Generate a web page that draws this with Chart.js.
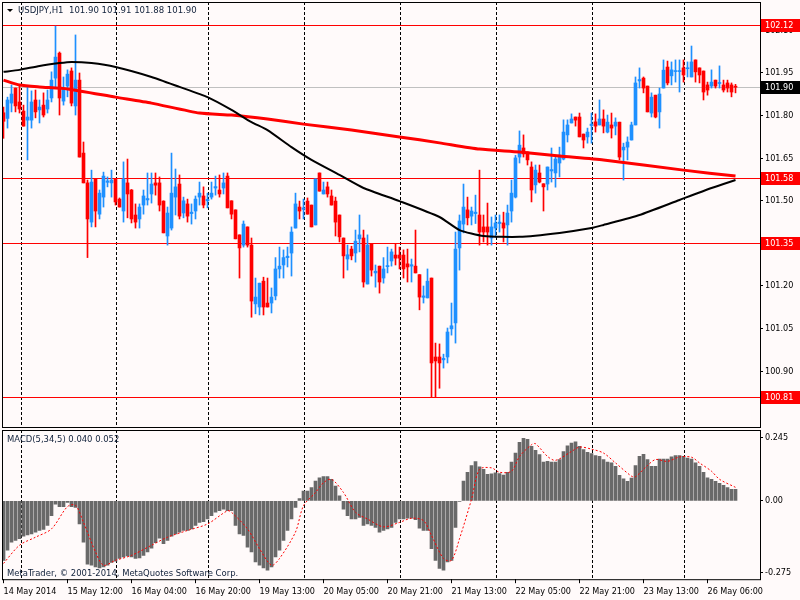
<!DOCTYPE html>
<html>
<head>
<meta charset="utf-8">
<script src="https://cdn.jsdelivr.net/npm/chart.js@4.4.1/dist/chart.umd.min.js"></script>
<style>
html, body { margin: 0; padding: 0; background: #fffafa; }
#wrap { position: relative; width: 800px; height: 600px; overflow: hidden; }
canvas { position: absolute; left: 0; }
#main { top: 0; }
#macd { top: 428px; }
</style>
</head>
<body>
<div id="wrap">
  <canvas id="main" width="800" height="428"></canvas>
  <canvas id="macd" width="800" height="172"></canvas>
</div>
<script>
// USDJPY H1 candles, bar 0 = 14 May 20:00
const opens = [101.81,101.79,101.844,101.897,101.848,101.816,101.784,101.784,101.855,101.82,
  101.837,101.823,101.862,101.932,102.02,101.851,101.904,101.957,101.834,101.925,
  101.668,101.563,101.425,101.577,101.453,101.513,101.565,101.563,101.577,101.506,
  101.464,101.563,101.538,101.45,101.436,101.485,101.503,101.524,101.563,101.563,
  101.499,101.376,101.404,101.513,101.559,101.457,101.489,101.455,101.464,101.513,
  101.517,101.50,101.513,101.545,101.538,101.545,101.587,101.50,101.468,101.38,
  101.344,101.408,101.344,101.137,101.126,101.217,101.14,101.14,101.165,101.26,
  101.274,101.30,101.316,101.404,101.478,101.47,101.499,101.485,101.415,101.598,
  101.524,101.549,101.517,101.499,101.45,101.369,101.295,101.33,101.316,101.366,
  101.369,101.207,101.348,101.246,101.27,101.228,101.268,101.288,101.309,101.309,
  101.309,101.278,101.27,101.27,101.24,101.16,101.158,101.228,100.95,100.95,
  100.94,100.95,101.049,101.07,101.334,101.418,101.468,101.446,101.455,101.45,
  101.408,101.408,101.369,101.404,101.42,101.422,101.415,101.464,101.513,101.654,
  101.686,101.672,101.619,101.556,101.598,101.56,101.559,101.605,101.598,101.633,
  101.647,101.732,101.774,101.795,101.795,101.735,101.725,101.765,101.778,101.767,
  101.788,101.742,101.767,101.763,101.777,101.679,101.689,101.714,101.767,101.922,
  101.932,101.904,101.809,101.872,101.813,101.897,101.971,101.94,101.955,101.955,
  101.968,101.965,101.936,101.996,101.968,101.957,101.908,101.904,101.925,101.913,
  101.908,101.915,101.908,101.90];
const highs = [101.83,101.865,101.908,101.897,101.908,101.837,101.901,101.887,101.89,101.855,
  101.88,101.89,101.954,102.115,102.024,101.936,101.961,101.968,102.084,101.95,
  101.707,101.573,101.608,101.577,101.538,101.601,101.584,101.608,101.577,101.51,
  101.637,101.647,101.54,101.489,101.489,101.538,101.598,101.598,101.598,101.584,
  101.50,101.478,101.668,101.612,101.591,101.513,101.506,101.489,101.517,101.566,
  101.549,101.527,101.566,101.587,101.591,101.598,101.598,101.50,101.468,101.38,
  101.429,101.408,101.369,101.228,101.21,101.231,101.228,101.193,101.30,101.337,
  101.327,101.337,101.408,101.527,101.499,101.506,101.51,101.485,101.577,101.598,
  101.566,101.566,101.538,101.513,101.45,101.369,101.344,101.34,101.397,101.45,
  101.397,101.38,101.348,101.274,101.27,101.30,101.337,101.33,101.348,101.337,
  101.327,101.33,101.295,101.397,101.24,101.20,101.26,101.228,100.999,100.996,
  100.96,101.052,101.14,101.39,101.45,101.559,101.513,101.478,101.52,101.608,
  101.45,101.492,101.443,101.45,101.45,101.46,101.485,101.573,101.66,101.746,
  101.732,101.672,101.637,101.626,101.626,101.56,101.619,101.686,101.658,101.689,
  101.785,101.785,101.806,101.795,101.809,101.735,101.756,101.809,101.806,101.855,
  101.82,101.802,101.809,101.792,101.777,101.703,101.725,101.777,101.936,101.968,
  101.936,101.904,101.88,101.872,101.897,101.996,101.992,101.989,101.996,101.996,
  101.996,101.989,102.045,101.996,101.968,101.957,101.918,101.961,101.925,101.975,
  101.925,101.925,101.915,101.91];
const lows = [101.72,101.756,101.813,101.813,101.809,101.763,101.644,101.756,101.792,101.774,
  101.795,101.809,101.848,101.901,101.802,101.837,101.866,101.834,101.802,101.654,
  101.563,101.30,101.408,101.408,101.436,101.478,101.549,101.513,101.485,101.478,
  101.425,101.44,101.422,101.404,101.404,101.453,101.485,101.492,101.52,101.464,
  101.387,101.344,101.397,101.45,101.436,101.44,101.425,101.418,101.436,101.485,
  101.475,101.475,101.506,101.52,101.513,101.524,101.475,101.436,101.366,101.228,
  101.337,101.337,101.09,101.102,101.098,101.098,101.126,101.105,101.151,101.228,
  101.228,101.267,101.235,101.404,101.436,101.436,101.453,101.408,101.415,101.534,
  101.524,101.513,101.485,101.376,101.355,101.228,101.256,101.292,101.284,101.32,
  101.196,101.207,101.235,101.196,101.175,101.21,101.246,101.27,101.274,101.26,
  101.228,101.214,101.214,101.246,101.116,101.14,101.158,100.81,100.81,100.84,
  100.911,100.929,101.027,100.999,101.256,101.387,101.415,101.415,101.42,101.344,
  101.355,101.344,101.344,101.372,101.39,101.355,101.344,101.425,101.51,101.633,
  101.654,101.626,101.496,101.527,101.563,101.464,101.538,101.566,101.548,101.584,
  101.644,101.707,101.774,101.763,101.725,101.686,101.703,101.703,101.742,101.767,
  101.739,101.739,101.721,101.732,101.644,101.573,101.644,101.714,101.767,101.897,
  101.88,101.813,101.795,101.792,101.756,101.897,101.908,101.908,101.918,101.883,
  101.918,101.936,101.936,101.918,101.915,101.855,101.872,101.897,101.897,101.897,
  101.883,101.883,101.866,101.88];
const closes = [101.78,101.855,101.876,101.834,101.823,101.763,101.795,101.848,101.813,101.83,
  101.802,101.855,101.925,102.006,101.862,101.897,101.946,101.844,101.925,101.654,
  101.563,101.436,101.566,101.464,101.527,101.587,101.57,101.573,101.496,101.478,
  101.577,101.524,101.436,101.425,101.478,101.517,101.508,101.559,101.555,101.485,
  101.387,101.457,101.527,101.549,101.446,101.50,101.446,101.46,101.506,101.527,
  101.485,101.505,101.527,101.55,101.524,101.563,101.475,101.453,101.366,101.334,
  101.418,101.344,101.147,101.161,101.21,101.126,101.126,101.161,101.26,101.27,
  101.30,101.305,101.39,101.489,101.464,101.475,101.453,101.408,101.577,101.534,
  101.538,101.524,101.485,101.425,101.373,101.306,101.31,101.306,101.358,101.38,
  101.214,101.344,101.256,101.252,101.214,101.26,101.272,101.32,101.298,101.298,
  101.26,101.267,101.275,101.246,101.161,101.165,101.217,100.929,100.936,100.929,
  100.945,101.038,101.06,101.33,101.429,101.478,101.44,101.464,101.46,101.39,
  101.39,101.39,101.408,101.422,101.425,101.404,101.457,101.527,101.651,101.696,
  101.665,101.644,101.538,101.608,101.566,101.549,101.619,101.61,101.647,101.661,
  101.742,101.767,101.788,101.784,101.725,101.714,101.742,101.77,101.763,101.788,
  101.763,101.777,101.756,101.777,101.654,101.689,101.707,101.767,101.915,101.927,
  101.897,101.813,101.865,101.795,101.876,101.96,101.915,101.961,101.958,101.958,
  101.943,101.968,101.989,101.954,101.943,101.883,101.89,101.918,101.904,101.916,
  101.89,101.897,101.883,101.90];

// moving averages, read at a few bars
const blackMaIdx = [0,4,9,14,17,22,28,37,44,51,57,62,66,72,77,84,90,99,109,114,120,129,139,147,150,159,169,177,183];
const blackMaVal = [101.954,101.961,101.975,101.985,101.989,101.985,101.971,101.936,101.901,101.865,101.82,101.777,101.749,101.689,101.644,101.591,101.545,101.499,101.443,101.397,101.376,101.373,101.387,101.404,101.415,101.45,101.503,101.545,101.573];
const redMaIdx = [0,4,9,16,28,37,49,57,66,75,87,99,109,119,129,139,150,170,183];
const redMaVal = [101.925,101.908,101.901,101.894,101.865,101.844,101.809,101.802,101.788,101.77,101.749,101.725,101.704,101.682,101.672,101.658,101.644,101.608,101.587];

// MACD(5,34,5)
const macdHist = [-0.229,-0.19,-0.159,-0.152,-0.146,-0.136,-0.131,-0.127,-0.121,-0.114,
  -0.11,-0.095,-0.057,-0.013,-0.022,-0.022,-0.006,-0.022,-0.025,-0.089,
  -0.159,-0.244,-0.248,-0.254,-0.258,-0.254,-0.248,-0.237,-0.232,-0.222,
  -0.216,-0.212,-0.216,-0.222,-0.22,-0.21,-0.197,-0.182,-0.161,-0.144,
  -0.165,-0.152,-0.136,-0.127,-0.121,-0.114,-0.114,-0.108,-0.095,-0.083,
  -0.08,-0.07,-0.057,-0.044,-0.038,-0.032,-0.038,-0.038,-0.095,-0.127,
  -0.133,-0.178,-0.197,-0.235,-0.248,-0.258,-0.267,-0.254,-0.216,-0.19,
  -0.152,-0.114,-0.07,-0.025,0.009,0.038,0.038,0.051,0.076,0.089,
  0.093,0.093,0.083,0.057,0.019,-0.032,-0.057,-0.07,-0.07,-0.064,
  -0.095,-0.089,-0.095,-0.102,-0.121,-0.114,-0.108,-0.102,-0.083,-0.07,
  -0.07,-0.067,-0.067,-0.072,-0.105,-0.114,-0.114,-0.184,-0.229,-0.26,
  -0.267,-0.235,-0.229,-0.102,-0.002,0.076,0.11,0.136,0.151,0.131,
  0.121,0.102,0.104,0.108,0.105,0.099,0.11,0.149,0.184,0.225,
  0.241,0.237,0.21,0.194,0.178,0.149,0.152,0.149,0.149,0.159,
  0.19,0.212,0.222,0.227,0.21,0.197,0.187,0.182,0.174,0.171,
  0.159,0.149,0.146,0.133,0.098,0.085,0.075,0.088,0.136,0.171,
  0.179,0.159,0.133,0.133,0.161,0.161,0.161,0.169,0.174,0.174,
  0.171,0.165,0.161,0.146,0.133,0.11,0.089,0.083,0.075,0.067,
  0.06,0.051,0.044,0.044];
const signalIdx = [0,4,8,12,16,18,20,23,25,28,32,37,41,46,51,56,57,61,64,67,69,73,75,78,80,82,85,88,91,95,99,
  102,105,107,110,112,114,117,119,122,124,127,129,132,133,136,138,142,144,147,150,153,157,158,161,163,166,169,172,174,177,179,183];
const signalVal = [-0.241,-0.171,-0.14,-0.108,-0.022,-0.017,-0.083,-0.197,-0.248,-0.229,-0.21,-0.171,-0.14,-0.114,-0.089,-0.038,-0.044,-0.108,-0.184,-0.248,-0.222,-0.12,-0.019,0.032,0.07,0.083,0.032,-0.044,-0.07,-0.1,-0.083,
  -0.067,-0.076,-0.133,-0.222,-0.229,-0.146,0.006,0.121,0.127,0.11,0.114,0.171,0.216,0.22,0.171,0.156,0.19,0.207,0.199,0.184,0.146,0.095,0.093,0.136,0.159,0.152,0.169,0.168,0.146,0.114,0.083,0.052];

// axes
const priceTicks = [100.90,101.05,101.20,101.35,101.50,101.65,101.80,101.95,102.10];
const levels = [102.12,101.58,101.35,100.81];
const bidPrice = 101.90;
const macdTicks = [0.245,0,-0.275];
const macdTickText = ['0.245','0.00','-0.275'];
const xLabelIdx = [0,16,32,48,64,80,96,112,128,144,160,176];
const xLabels = ['14 May 2014','15 May 12:00','16 May 04:00','16 May 20:00','19 May 13:00','20 May 05:00',
  '20 May 21:00','21 May 13:00','22 May 05:00','22 May 21:00','23 May 13:00','26 May 06:00'];
const dayBreaks = [4.25,28.2,51.1,75.1,99,123.2,147.2,170.1];

const X_MIN = -0.375, X_MAX = 189.125;
const BULL = '#1e90ff', BEAR = '#ff0000';
const FONT = "'DejaVu Sans Condensed', 'DejaVu Sans', sans-serif";
Chart.defaults.font.family = FONT;
Chart.defaults.font.size = 9;
Chart.defaults.color = '#000';

const candleColors = opens.map((o, i) => closes[i] > o ? BULL : BEAR);
const bodies = opens.map((o, i) => ({x: i, y: [o, closes[i]]}));
const wicks = lows.map((l, i) => ({x: i, y: [l, highs[i]]}));

function fixAxis(w) {
  return function (s) {
    if (w) s.width = w;
    s.paddingTop = 0; s.paddingBottom = 0; s.paddingLeft = 0; s.paddingRight = 0;
  };
}

function dashedDays(chart) {
  const {ctx, chartArea: a, scales: {x}} = chart;
  ctx.save();
  ctx.strokeStyle = '#000';
  ctx.lineWidth = 1;
  ctx.setLineDash([3, 2]);
  dayBreaks.forEach(d => {
    const px = Math.round(x.getPixelForValue(d)) + 0.5;
    ctx.beginPath(); ctx.moveTo(px, a.top); ctx.lineTo(px, a.bottom); ctx.stroke();
  });
  ctx.restore();
}

function frame(chart) {
  const {ctx, chartArea: a} = chart;
  ctx.save();
  ctx.strokeStyle = '#000';
  ctx.lineWidth = 1;
  ctx.strokeRect(a.left + 0.5, a.top + 0.5, a.right - a.left, a.bottom - a.top);
  ctx.restore();
}

const mainDecor = {
  id: 'mainDecor',
  beforeDatasetsDraw(chart) {
    const {ctx, chartArea: a, scales: {y}} = chart;
    dashedDays(chart);
    ctx.save();
    ctx.lineWidth = 1;
    let py = Math.round(y.getPixelForValue(bidPrice)) + 0.5;
    ctx.strokeStyle = '#c0c0c0';
    ctx.beginPath(); ctx.moveTo(a.left, py); ctx.lineTo(a.right, py); ctx.stroke();
    ctx.strokeStyle = '#ff0000';
    levels.forEach(v => {
      py = Math.round(y.getPixelForValue(v)) + 0.5;
      ctx.beginPath(); ctx.moveTo(a.left, py); ctx.lineTo(a.right, py); ctx.stroke();
    });
    ctx.restore();
  },
  afterDraw(chart) {
    const {ctx, chartArea: a, scales: {y}} = chart;
    frame(chart);
    ctx.save();
    ctx.font = '9px ' + FONT;
    ctx.textBaseline = 'middle';
    const tag = (v, bg) => {
      const py = Math.round(y.getPixelForValue(v));
      ctx.fillStyle = bg;
      ctx.fillRect(a.right + 1, py - 6, 39, 13);
      ctx.fillStyle = '#fff';
      ctx.fillText(v.toFixed(2), a.right + 5, py + 0.5);
    };
    levels.forEach(v => tag(v, '#ff0000'));
    tag(bidPrice, '#000');
    // header
    ctx.fillStyle = '#000';
    ctx.beginPath(); ctx.moveTo(7, 9); ctx.lineTo(13, 9); ctx.lineTo(10, 12); ctx.closePath(); ctx.fill();
    ctx.font = '9.5px ' + FONT;
    ctx.fillStyle = '#10203a';
    ctx.fillText('USDJPY,H1  101.90 101.91 101.88 101.90', 18, 11);
    ctx.restore();
  }
};

const macdDecor = {
  id: 'macdDecor',
  beforeDatasetsDraw(chart) { dashedDays(chart); },
  afterDraw(chart) {
    const {ctx, chartArea: a} = chart;
    frame(chart);
    ctx.save();
    ctx.font = '9.4px ' + FONT;
    ctx.textBaseline = 'middle';
    ctx.fillStyle = '#10203a';
    ctx.fillText('MACD(5,34,5) 0.040 0.052', 7, a.top + 10);
    ctx.fillText('MetaTrader, \u00a9 2001-2014, MetaQuotes Software Corp.', 7, a.bottom - 6);
    ctx.restore();
  }
};

new Chart(document.getElementById('main'), {
  type: 'bar',
  data: {
    datasets: [
      {type: 'line', data: blackMaIdx.map((v, i) => ({x: v, y: blackMaVal[i]})), borderColor: '#000', borderWidth: 2, pointRadius: 0, tension: 0.2, order: 0},
      {type: 'line', data: redMaIdx.map((v, i) => ({x: v, y: redMaVal[i]})), borderColor: '#ff0000', borderWidth: 3, pointRadius: 0, tension: 0.2, order: 0},
      {data: bodies, backgroundColor: candleColors, barThickness: 3, grouped: false, minBarLength: 1, order: 1},
      {data: wicks, backgroundColor: candleColors, barThickness: 1, grouped: false, order: 2}
    ]
  },
  options: {
    responsive: false,
    animation: false,
    devicePixelRatio: 1,
    layout: {padding: {left: 2, top: 2, right: 0, bottom: 1}},
    plugins: {legend: {display: false}, tooltip: {enabled: false}},
    scales: {
      x: {type: 'linear', min: X_MIN, max: X_MAX, bounds: 'data', offset: false, display: false},
      y: {
        type: 'linear', position: 'right', min: 100.7035, max: 102.2, bounds: 'data',
        afterBuildTicks: s => { s.ticks = priceTicks.map(v => ({value: v})); },
        afterFit: fixAxis(40),
        ticks: {padding: 2, callback: v => v.toFixed(2), color: '#000'},
        grid: {drawOnChartArea: false, tickLength: 3, color: '#000'},
        border: {display: false}
      }
    }
  },
  plugins: [mainDecor]
});

new Chart(document.getElementById('macd'), {
  type: 'bar',
  data: {
    datasets: [
      {type: 'line', data: signalIdx.map((v, i) => ({x: v, y: signalVal[i]})), borderColor: '#ff0000', borderWidth: 1, borderDash: [2, 2], pointRadius: 0, tension: 0.3, order: 0},
      {data: macdHist.map((v, i) => ({x: i, y: v})), backgroundColor: '#696969', barThickness: 3, grouped: false, order: 1}
    ]
  },
  options: {
    responsive: false,
    animation: false,
    devicePixelRatio: 1,
    layout: {padding: {left: 2, top: 2, right: 0, bottom: 0}},
    plugins: {legend: {display: false}, tooltip: {enabled: false}},
    scales: {
      x: {
        type: 'linear', min: X_MIN, max: X_MAX, bounds: 'data', offset: false, position: 'bottom',
        afterBuildTicks: s => { s.ticks = xLabelIdx.map(v => ({value: v})); },
        afterFit: fixAxis(0),
        ticks: {autoSkip: false, maxRotation: 0, align: 'start', padding: 3, color: '#000', callback: (v, i) => xLabels[i]},
        grid: {drawOnChartArea: false, offset: false, tickLength: 4, color: '#000'},
        border: {display: false}
      },
      y: {
        type: 'linear', position: 'right', min: -0.3016, max: 0.2727, bounds: 'data',
        afterBuildTicks: s => { s.ticks = macdTicks.map(v => ({value: v})); },
        afterFit: fixAxis(40),
        ticks: {padding: 2, color: '#000', callback: (v, i) => macdTickText[i]},
        grid: {drawOnChartArea: false, tickLength: 3, color: '#000'},
        border: {display: false}
      }
    }
  },
  plugins: [macdDecor]
});
</script>
</body>
</html>
